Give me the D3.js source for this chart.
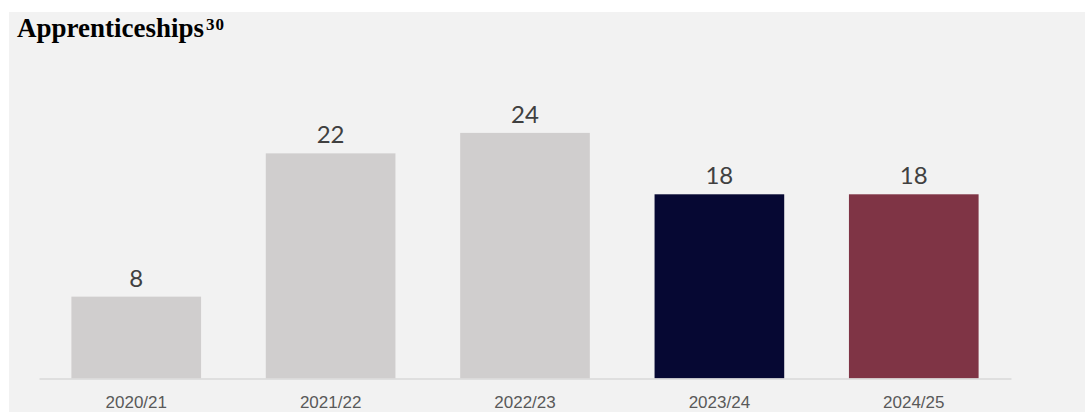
<!DOCTYPE html>
<html><head><meta charset="utf-8">
<script src="https://cdn.jsdelivr.net/npm/d3@7"></script>
<style>
html,body{margin:0;padding:0;background:#fff;}
svg{display:block;}
</style></head>
<body>
<svg id="chart" width="1085" height="412"></svg>
<script>
const categories = ["2020/21","2021/22","2022/23","2023/24","2024/25"];
const values = [8,22,24,18,18];
const barColors = ["#d0cece","#d0cece","#d0cece","#060833","#7f3445"];
const title = "Apprenticeships";
const titleNote = "30";

const svg = d3.select("#chart");
svg.append("rect").attr("x",9).attr("y",12).attr("width",1076).attr("height",400).attr("fill","#f2f2f2");

const x = d3.scaleBand().domain(categories).range([39,1011]).paddingInner(0.333).paddingOuter(0.1667);
const y = d3.scaleLinear().domain([0,30]).range([378.5,71.5]);

svg.append("text").attr("x",17).attr("y",36.5)
  .attr("font-family","'Liberation Serif', 'DejaVu Serif', serif").attr("font-weight","bold")
  .attr("font-size",27).attr("fill","#000")
  .text(title)
  .append("tspan").attr("font-size",17).attr("dy",-7).attr("dx",2).attr("letter-spacing",1).text(titleNote);

svg.selectAll("rect.bar").data(values).join("rect").attr("class","bar")
  .attr("x",(d,i)=>x(categories[i])).attr("width",x.bandwidth())
  .attr("y",d=>y(d)).attr("height",d=>y(0)-y(d))
  .attr("fill",(d,i)=>barColors[i]);

svg.selectAll("text.val").data(values).join("text").attr("class","val")
  .attr("x",(d,i)=>x(categories[i])+x.bandwidth()/2).attr("y",d=>y(d)-10)
  .attr("text-anchor","middle").attr("font-family","Lato, sans-serif").attr("font-size",24)
  .attr("fill","#404040").text(d=>d);

const axis = d3.axisBottom(x).tickSize(0).tickPadding(17);
const g = svg.append("g").attr("transform",`translate(0,${y(0)})`).call(axis);
g.select(".domain").attr("stroke","#d9d9d9").attr("stroke-width",1.5);
g.selectAll("text").attr("font-family","'Liberation Sans', Arial, sans-serif").attr("font-size",17).attr("fill","#595959");
</script>
</body></html>
